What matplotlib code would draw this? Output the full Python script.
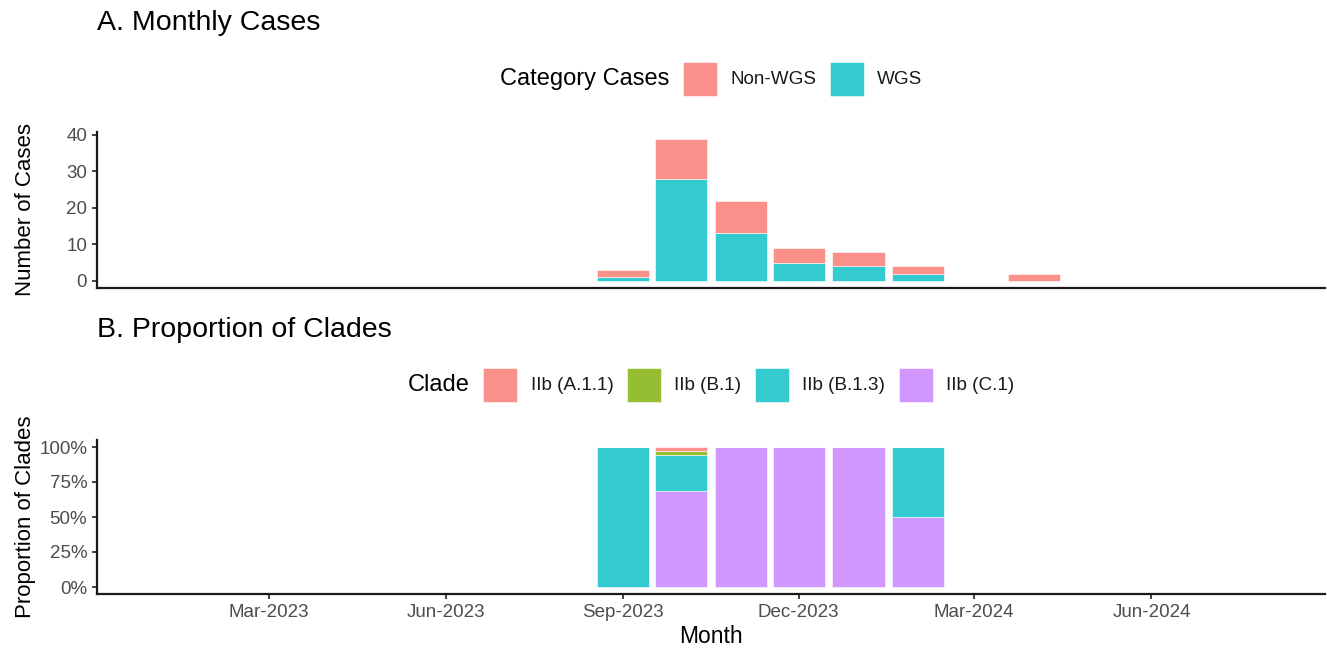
import numpy as np
import matplotlib.pyplot as plt
import matplotlib.dates as mdates
from matplotlib.patches import Rectangle
from matplotlib.ticker import FuncFormatter

plt.rcParams["font.family"] = ["Liberation Sans", "DejaVu Sans"]

# Panel A: monthly case counts
months = np.array(["2023-09-01", "2023-10-01", "2023-11-01", "2023-12-01",
                   "2024-01-01", "2024-02-01", "2024-04-01"], dtype="datetime64[D]")
wgs = [1, 28, 13, 5, 4, 2, 0]
non_wgs = [2, 11, 9, 4, 4, 2, 2]
case_categories = ["Non-WGS", "WGS"]

# Panel B: clade proportions per month
clade_months = np.array(["2023-09-01", "2023-10-01", "2023-11-01", "2023-12-01",
                         "2024-01-01", "2024-02-01"], dtype="datetime64[D]")
clades = ["IIb (A.1.1)", "IIb (B.1)", "IIb (B.1.3)", "IIb (C.1)"]
prop_a11 = [0.0, 0.029, 0.0, 0.0, 0.0, 0.0]
prop_b1 = [0.0, 0.029, 0.0, 0.0, 0.0, 0.0]
prop_b13 = [1.0, 0.257, 0.0, 0.0, 0.0, 0.5]
prop_c1 = [0.0, 0.686, 1.0, 1.0, 1.0, 0.5]

x_ticks = np.array(["2023-03-01", "2023-06-01", "2023-09-01", "2023-12-01",
                    "2024-03-01", "2024-06-01"], dtype="datetime64[D]")

case_colors = {"Non-WGS": "#F8766D", "WGS": "#00BFC4"}
clade_colors = {"IIb (A.1.1)": "#F8766D", "IIb (B.1)": "#7CAE00",
                "IIb (B.1.3)": "#00BFC4", "IIb (C.1)": "#C77CFF"}
ALPHA = 0.8
BAR_W = 27  # days

W, H = 1327, 650
fig = plt.figure(figsize=(W / 100, H / 100), dpi=100)


def axes_px(left, top, right, bottom):
    return fig.add_axes([left / W, 1 - bottom / H, (right - left) / W, (bottom - top) / H])


def style_axes(ax):
    for s in ["top", "right"]:
        ax.spines[s].set_visible(False)
    for s in ["left", "bottom"]:
        ax.spines[s].set_linewidth(1.6)
        ax.spines[s].set_color("#1a1a1a")
    ax.tick_params(length=3.6, width=1.3, color="#333333", labelsize=13.5,
                   labelcolor="#4D4D4D", pad=3.5)
    ax.set_xlim(np.datetime64("2022-12-02"), np.datetime64("2024-08-30"))


def draw_legend(title, labels, colors, y_px, center_px):
    renderer = fig.canvas.get_renderer()
    gap, key = 13.5, 34
    t = fig.text(0, 1 - y_px / H, title, fontsize=17, va="center", ha="left")
    texts = [fig.text(0, 1 - y_px / H, lab, fontsize=13.6, va="center", ha="left",
                      color="#1a1a1a") for lab in labels]
    tw = t.get_window_extent(renderer).width
    lws = [tx.get_window_extent(renderer).width for tx in texts]
    total = tw + gap + sum(key + gap + w for w in lws) + gap * (len(labels) - 1)
    x = center_px - total / 2
    t.set_x(x / W)
    x += tw + gap
    for lab, tx, w in zip(labels, texts, lws):
        fig.add_artist(Rectangle((x / W, 1 - (y_px + key / 2) / H), key / W, key / H,
                                 transform=fig.transFigure, facecolor=colors[lab],
                                 alpha=ALPHA, edgecolor="white", linewidth=0.5))
        x += key + gap
        tx.set_x(x / W)
        x += w + gap


# ---- Panel A ----
axA = axes_px(97, 131.5, 1325, 288)
style_axes(axA)
axA.bar(months, wgs, width=BAR_W, color=case_colors["WGS"], alpha=ALPHA,
        edgecolor="white", linewidth=0.5)
axA.bar(months, non_wgs, width=BAR_W, bottom=wgs, color=case_colors["Non-WGS"],
        alpha=ALPHA, edgecolor="white", linewidth=0.5)
axA.set_ylim(-1.95, 40.95)
axA.set_yticks([0, 10, 20, 30, 40])
axA.tick_params(axis="x", bottom=False, labelbottom=False)
axA.set_ylabel("Number of Cases", fontsize=16)
axA.yaxis.set_label_coords(-0.05, 0.5)
fig.text(97 / W, 1 - 29.5 / H, "A. Monthly Cases", fontsize=20.5, va="baseline")
draw_legend("Category Cases", case_categories, case_colors, 79, 711)

# ---- Panel B ----
axB = axes_px(97, 440, 1325, 594)
style_axes(axB)
bottom = np.zeros(len(clade_months))
for name, vals in [("IIb (C.1)", prop_c1), ("IIb (B.1.3)", prop_b13),
                   ("IIb (B.1)", prop_b1), ("IIb (A.1.1)", prop_a11)]:
    vals = np.array(vals)
    axB.bar(clade_months, vals, width=BAR_W, bottom=bottom, color=clade_colors[name],
            alpha=ALPHA, edgecolor="white", linewidth=0.5)
    bottom += vals
axB.set_ylim(-0.05, 1.05)
axB.set_yticks([0, 0.25, 0.5, 0.75, 1.0])
axB.yaxis.set_major_formatter(FuncFormatter(lambda v, p: f"{v * 100:.0f}%"))
axB.set_xticks(x_ticks)
axB.xaxis.set_major_formatter(mdates.DateFormatter("%b-%Y"))
axB.set_ylabel("Proportion of Clades", fontsize=16)
axB.yaxis.set_label_coords(-0.05, 0.5)
axB.set_xlabel("Month", fontsize=16.5, labelpad=3)
fig.text(97 / W, 1 - 336.7 / H, "B. Proportion of Clades", fontsize=20.5, va="baseline")
draw_legend("Clade", clades, clade_colors, 385, 711)

fig.savefig("out.png", dpi=100, facecolor="white")
